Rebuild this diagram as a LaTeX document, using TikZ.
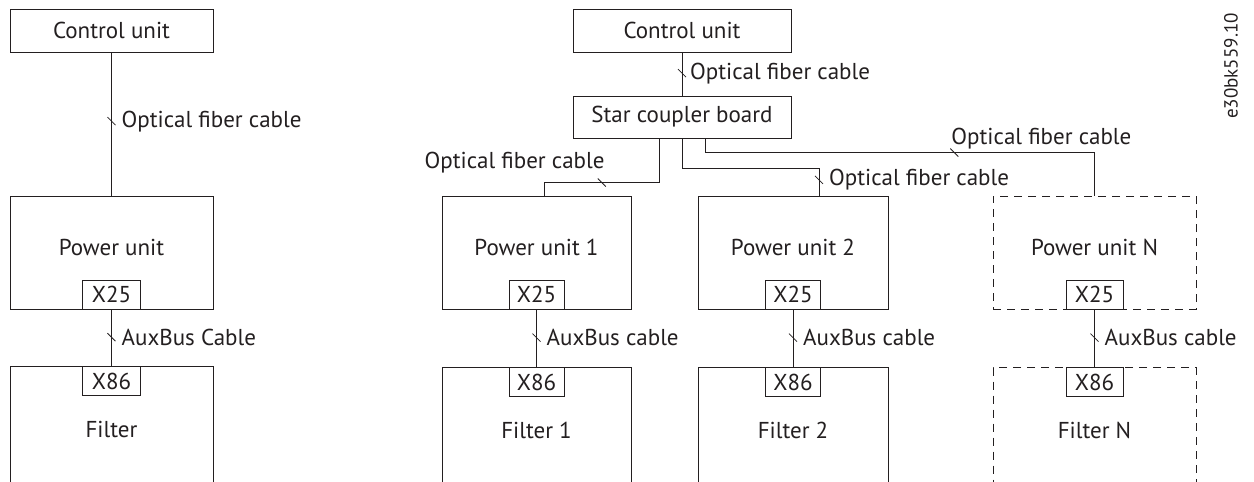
\documentclass[tikz,border=0pt]{standalone}
\usepackage{fontspec}
\setmainfont{PT Sans}
\definecolor{ink}{RGB}{35,31,32}
\begin{document}
\begin{tikzpicture}[x=1pt,y=-1pt,
  every node/.style={font=\fontsize{23}{27}\selectfont, text=ink},
  box/.style={draw=ink, line width=1pt, rectangle, inner sep=0pt},
  dbox/.style={box, dashed, dash pattern=on 8pt off 6pt},
  port/.style={draw=ink, line width=1pt, fill=white, rectangle, inner sep=0pt, minimum height=29pt},
  wire/.style={draw=ink, line width=1pt},
  lbl/.style={inner sep=0pt},
  tk/.style={draw=ink, line width=0.8pt}]
\useasboundingbox (0,0) rectangle (1254,482);
\clip (0,0) rectangle (1254,482);

% ---------- left system ----------
\node[box, minimum width=203pt, minimum height=43pt] (cuL) at (111.5,30.5) {Control unit};
\node[box, minimum width=203pt, minimum height=113pt, label={[yshift=5pt]center:Power unit}] (puL) at (111.5,252.5) {};
\node[port, minimum width=58pt, anchor=south] (x25L) at (puL.south) {X25};
\node[box, minimum width=203pt, minimum height=140pt, anchor=north, label={[yshift=7pt]center:Filter}] (fiL) at (111.5,366) {};
\node[port, minimum width=58pt, anchor=north] (x86L) at (fiL.north) {X86};

\draw[wire] (cuL) -- coordinate[pos=0.48] (t1) (puL);
\draw[tk] (t1) +(-4,-4) -- +(4,4);
\node[lbl, anchor=west] (l1) at ([xshift=10pt]t1) {Optical fiber cable};

\draw[wire] (x25L) -- coordinate[pos=0.49] (t2) (x86L);
\draw[tk] (t2) +(-4,-4) -- +(4,4);
\node[lbl, anchor=west] (l2) at ([xshift=10pt]t2) {AuxBus Cable};

% ---------- right system ----------
\node[box, minimum width=218pt, minimum height=43pt] (cuR) at (682,30.5) {Control unit};
\node[box, minimum width=218pt, minimum height=42pt] (scb) at (682,117) {Star coupler board};

\node[box, minimum width=189pt, minimum height=113pt, label={[yshift=5pt]center:Power unit 1}] (pu1) at (536.5,252.5) {};
\node[box, minimum width=190pt, minimum height=113pt, label={[yshift=5pt]center:Power unit 2}] (pu2) at (793,252.5) {};
\node[dbox, minimum width=203pt, minimum height=113pt, label={[yshift=5pt]center:Power unit N}] (puN) at (1094.5,252.5) {};
\node[port, minimum width=55pt, anchor=south] (x251) at (pu1.south) {X25};
\node[port, minimum width=55pt, anchor=south] (x252) at (pu2.south) {X25};
\node[port, minimum width=57pt, anchor=south] (x25N) at (puN.south) {X25};

\node[box, minimum width=189pt, minimum height=140pt, anchor=north, label={[yshift=7pt]center:Filter 1}] (fi1) at (536.5,367) {};
\node[box, minimum width=190pt, minimum height=140pt, anchor=north, label={[yshift=7pt]center:Filter 2}] (fi2) at (793,367) {};
\node[dbox, minimum width=203pt, minimum height=140pt, anchor=north, label={[yshift=7pt]center:Filter N}] (fiN) at (1094.5,367) {};
\node[port, minimum width=55pt, anchor=north] (x861) at (fi1.north) {X86};
\node[port, minimum width=55pt, anchor=north] (x862) at (fi2.north) {X86};
\node[port, minimum width=57pt, anchor=north] (x86N) at (fiN.north) {X86};

% control unit -> star coupler
\draw[wire] (cuR) -- coordinate[pos=0.48] (t3) (scb);
\draw[tk] (t3) +(-4,-4) -- +(4,4);
\node[lbl, anchor=west] (l3) at ([xshift=8pt]t3) {Optical fiber cable};

% star coupler -> power unit 1
\draw[wire] ([xshift=-23pt]scb.south) -- ++(0,44) -| coordinate[pos=0.25] (t4) ([xshift=8pt]pu1.north);
\draw[tk] (t4) +(-4,-4) -- +(4,4);
\node[lbl, anchor=base east] (l4) at ([xshift=3pt,yshift=14pt]t4) {Optical fiber cable};

% star coupler -> power unit 2
\draw[wire] (scb.south) -- ++(0,30) -| coordinate[pos=0.71] (t5) ([xshift=26pt]pu2.north);
\draw[tk] (t5) +(-4,-4) -- +(4,4);
\node[lbl, anchor=west] (l5) at ([xshift=10pt]t5) {Optical fiber cable};

% star coupler -> power unit N
\draw[wire] ([xshift=23pt]scb.south) -- ++(0,14) -| coordinate[pos=0.32] (t6) (puN.north);
\draw[tk] (t6) +(-4,-4) -- +(4,4);
\node[lbl, anchor=base west] (l6) at ([xshift=-3pt,yshift=8pt]t6) {Optical fiber cable};

% AuxBus cables
\draw[wire] (x251) -- coordinate[pos=0.49] (t7) (x861);
\draw[tk] (t7) +(-4,-4) -- +(4,4);
\node[lbl, anchor=west] (l7) at ([xshift=10pt]t7) {AuxBus cable};
\draw[wire] (x252) -- coordinate[pos=0.49] (t8) (x862);
\draw[tk] (t8) +(-4,-4) -- +(4,4);
\node[lbl, anchor=west] (l8) at ([xshift=10pt]t8) {AuxBus cable};
\draw[wire] (x25N) -- coordinate[pos=0.49] (t9) (x86N);
\draw[tk] (t9) +(-4,-4) -- +(4,4);
\node[lbl, anchor=west] (l9) at ([xshift=10pt]t9) {AuxBus cable};

% drawing number
\node[lbl, rotate=90, font=\fontsize{19}{22}\selectfont] (num) at (1231,66) {e30bk559.10};
\end{tikzpicture}
\end{document}
